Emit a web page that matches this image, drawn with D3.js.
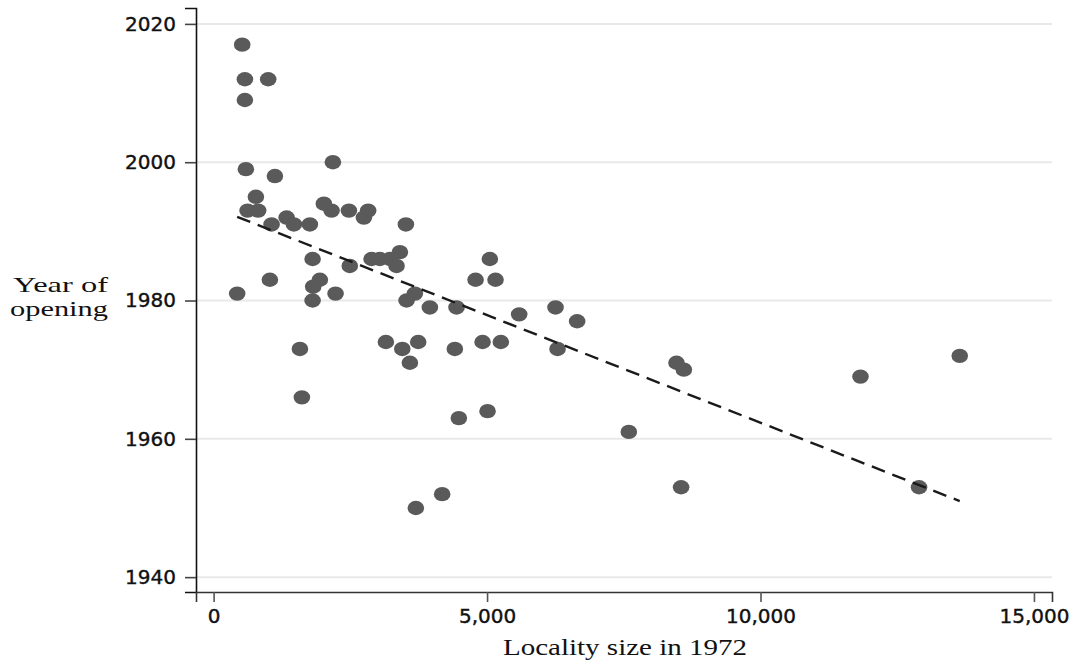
<!DOCTYPE html>
<html>
<head>
<meta charset="utf-8">
<script src="https://cdn.jsdelivr.net/npm/d3@7"></script>
<style>
  html, body { margin: 0; padding: 0; background: #fff; }
  svg { display: block; }
</style>
</head>
<body>
<svg id="chart" width="1075" height="664"></svg>
<script>
// Locality size in 1972 (inhabitants) for each site
const localitySize = [
  523, 572, 998, 572, 590, 1121, 2181, 773, 621, 815,
  1060, 1335, 1468, 1760, 2016, 2157, 2474, 2826, 2748, 3516,
  3406, 431, 1029, 1810, 1943, 1821, 1810, 2230, 2490, 2888,
  3040, 3223, 3345, 3680, 3528, 3954, 4442, 4790, 1578, 3150,
  3450, 3741, 3589, 4411, 5051, 5155, 5587, 6252, 6647, 4918,
  5252, 6289, 4484, 5009, 7592, 4179, 3698, 8464, 8598, 8548,
  11828, 13643, 12899, 1614
];
// Year each site opened (same order)
const yearOpened = [
  2017, 2012, 2012, 2009, 1999, 1998, 2000, 1995, 1993, 1993,
  1991, 1992, 1991, 1991, 1994, 1993, 1993, 1993, 1992, 1991,
  1987, 1981, 1983, 1986, 1983, 1982, 1980, 1981, 1985, 1986,
  1986, 1986, 1985, 1981, 1980, 1979, 1979, 1983, 1973, 1974,
  1973, 1974, 1971, 1973, 1986, 1983, 1978, 1979, 1977, 1974,
  1974, 1973, 1963, 1964, 1961, 1952, 1950, 1971, 1970, 1953,
  1969, 1972, 1953, 1966
];
// Linear fit, evaluated at the smallest and largest locality
const fitSize = [431, 13643];
const fitYear = [1992.1, 1951.0];

const xTicks = [0, 5000, 10000, 15000];
const yTicks = [1940, 1960, 1980, 2000, 2020];

const svg = d3.select("#chart");

const x = d3.scaleLinear().domain([-322, 15330]).range([196, 1052]);
const y = d3.scaleLinear().domain([1937.85, 2022.3]).range([592, 8]);

// horizontal grid
svg.append("g")
  .selectAll("line")
  .data(yTicks)
  .join("line")
  .attr("x1", 197).attr("x2", 1052)
  .attr("y1", d => y(d)).attr("y2", d => y(d))
  .attr("stroke", "#e9e9e9")
  .attr("stroke-width", 2);

const tickFont = "'DejaVu Sans', Verdana, sans-serif";

// y axis
const yAxis = svg.append("g")
  .attr("transform", "translate(196,0)")
  .call(d3.axisLeft(y).tickValues(yTicks).tickSize(11).tickPadding(9).tickFormat(d3.format("d")));
yAxis.select(".domain").attr("stroke", "#111").attr("stroke-width", 1.6);
yAxis.selectAll(".tick line").attr("stroke", "#444").attr("stroke-width", 1.6);
yAxis.selectAll(".tick text")
  .attr("font-family", tickFont)
  .attr("font-size", 20)
  .attr("fill", "#111")
  .attr("stroke", "#111")
  .attr("stroke-width", 0.4);

// x axis
const xAxis = svg.append("g")
  .attr("transform", "translate(0,592)")
  .call(d3.axisBottom(x).tickValues(xTicks).tickSize(10).tickPadding(7).tickFormat(d3.format(",")));
xAxis.select(".domain").attr("stroke", "#333").attr("stroke-width", 1.6);
xAxis.selectAll(".tick line").attr("stroke", "#555").attr("stroke-width", 1.6);
xAxis.selectAll(".tick text")
  .attr("font-family", tickFont)
  .attr("font-size", 20)
  .attr("fill", "#111")
  .attr("stroke", "#111")
  .attr("stroke-width", 0.4);

// points
const pts = localitySize.map((s, i) => ({ s, yr: yearOpened[i] }));
svg.append("g")
  .selectAll("ellipse")
  .data(pts)
  .join("ellipse")
  .attr("cx", d => x(d.s))
  .attr("cy", d => y(d.yr))
  .attr("rx", 8.3)
  .attr("ry", 7.2)
  .attr("fill", "#5a5a5a");

// fitted line
svg.append("line")
  .attr("x1", x(fitSize[0])).attr("y1", y(fitYear[0]))
  .attr("x2", x(fitSize[1])).attr("y2", y(fitYear[1]))
  .attr("stroke", "#1a1a1a")
  .attr("stroke-width", 2.4)
  .attr("stroke-dasharray", "14,8");

// axis titles
const serif = "'Liberation Serif', 'Times New Roman', serif";
svg.append("text")
  .attr("x", 13).attr("y", 292)
  .attr("font-family", serif).attr("font-size", 22).attr("fill", "#111")
  .attr("textLength", 95).attr("lengthAdjust", "spacingAndGlyphs")
  .text("Year of");
svg.append("text")
  .attr("x", 10).attr("y", 316)
  .attr("font-family", serif).attr("font-size", 22).attr("fill", "#111")
  .attr("textLength", 98).attr("lengthAdjust", "spacingAndGlyphs")
  .text("opening");
svg.append("text")
  .attr("x", 503).attr("y", 655)
  .attr("font-family", serif).attr("font-size", 24).attr("fill", "#111")
  .attr("textLength", 244).attr("lengthAdjust", "spacingAndGlyphs")
  .text("Locality size in 1972");
</script>
</body>
</html>
